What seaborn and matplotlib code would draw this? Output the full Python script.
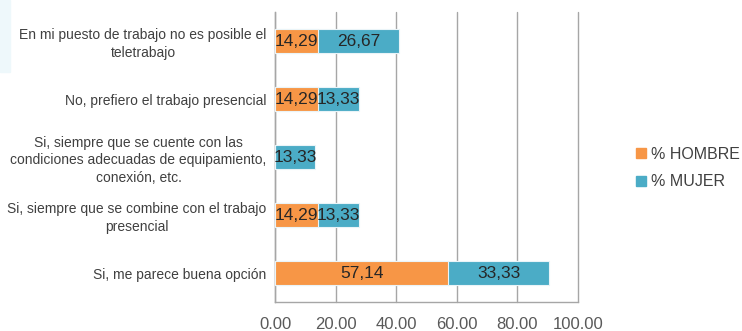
import numpy as np
import pandas as pd
import matplotlib
matplotlib.use("Agg")
import matplotlib.pyplot as plt
from matplotlib.patches import Rectangle
import seaborn as sns

categories = [
    "En mi puesto de trabajo no es posible el\nteletrabajo",
    "No, prefiero el trabajo presencial",
    "Si, siempre que se cuente con las\ncondiciones adecuadas de equipamiento,\nconexión, etc.",
    "Si, siempre que se combine con el trabajo\npresencial",
    "Si, me parece buena opción",
]
hombre = [14.29, 14.29, 0.0, 14.29, 57.14]
mujer = [26.67, 13.33, 13.33, 13.33, 33.33]
x_ticks = [0, 20, 40, 60, 80, 100]

ORANGE = "#F79646"
BLUE = "#4BACC6"
TEXT = "#404040"
GRID = "#A6A6A6"

sns.set_theme(style="white")
plt.rcParams["font.family"] = ["Liberation Sans", "DejaVu Sans"]

df = pd.DataFrame({"cat": categories, "hombre": hombre, "mujer": mujer})
df["total"] = df["hombre"] + df["mujer"]

fig = plt.figure(figsize=(7.42, 3.31), dpi=100)
fig.patches.append(Rectangle((0, 1 - 72 / 331), 10 / 742, 72 / 331,
                             transform=fig.transFigure, color="#EEF8FB", zorder=0))
ax = fig.add_axes([275 / 742, 1 - 302 / 331, (578 - 275) / 742, 290 / 331])

# stacked bars: full total in blue, male share drawn over it in orange
sns.barplot(data=df, y="cat", x="total", color=BLUE, width=0.41,
            orient="h", ax=ax, saturation=1, zorder=3)
sns.barplot(data=df, y="cat", x="hombre", color=ORANGE, width=0.41,
            orient="h", ax=ax, saturation=1, zorder=4)
for p in ax.patches:
    p.set_edgecolor("#EAF4F8")
    p.set_linewidth(0.8)

for i, (h, m) in enumerate(zip(hombre, mujer)):
    if h > 0:
        ax.text(h / 2, i, f"{h:.2f}".replace(".", ","), ha="center", va="center",
                fontsize=12.5, color="#262626", zorder=5)
    if m > 0:
        ax.text(h + m / 2, i, f"{m:.2f}".replace(".", ","), ha="center", va="center",
                fontsize=12.5, color="#262626", zorder=5)

ax.set_xlim(0, 100)
ax.set_ylim(len(categories) - 0.5, -0.5)
ax.set_xticks(x_ticks)
ax.set_xticklabels([f"{v:.2f}" for v in x_ticks], fontsize=12, color="#595959")
ax.set_xlabel("")
ax.set_ylabel("")

ax.set_yticks(range(len(categories)))
ax.set_yticklabels(categories, fontsize=10, color=TEXT, ha="right",
                   multialignment="center", linespacing=1.35)
ax.tick_params(axis="y", which="major", length=0, pad=6)
ax.set_yticks(np.arange(-0.5, len(categories)), minor=True)
ax.tick_params(axis="y", which="minor", length=5, width=1, color=GRID, direction="out")
ax.tick_params(axis="x", which="major", length=5, width=1, color=GRID,
               direction="out", pad=6)

ax.grid(axis="x", color=GRID, linewidth=1, zorder=0)
for gl in ax.get_xgridlines():
    gl.set_clip_on(False)
ax.set_axisbelow(True)
for s in ["top", "right"]:
    ax.spines[s].set_visible(False)
for s in ["left", "bottom"]:
    ax.spines[s].set_color(GRID)
    ax.spines[s].set_linewidth(1)

handles = [Rectangle((0, 0), 1, 1, color=ORANGE), Rectangle((0, 0), 1, 1, color=BLUE)]
leg = fig.legend(handles, ["% HOMBRE", "% MUJER"], loc="center left",
                 bbox_to_anchor=(622 / 742, 1 - 168 / 331), frameon=False,
                 fontsize=11.5, handlelength=0.6, handleheight=0.6,
                 handletextpad=0.3, labelspacing=0.8)
for t in leg.get_texts():
    t.set_color(TEXT)

fig.savefig("out.png", dpi=100)
